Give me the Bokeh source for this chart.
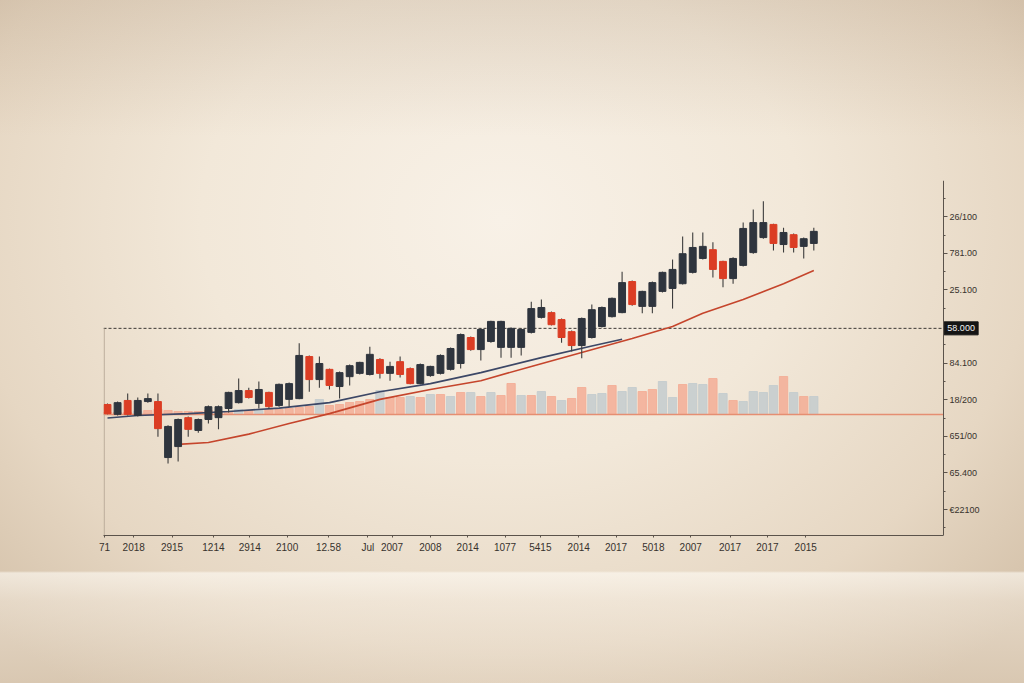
from bokeh.plotting import figure
from bokeh.models import Range1d, LinearAxis, FixedTicker, ColumnDataSource
from bokeh.core.properties import value
from bokeh.embed import file_html
from bokeh.resources import INLINE

# ---------------- data ----------------
opens = [387, 360, 398, 357, 395, 395, 242, 272, 351, 316,
         346, 351, 376, 392, 425, 390, 420, 384, 401, 403,
         518, 455, 483, 436, 463, 472, 469, 510, 472, 504,
         485, 444, 466, 472, 483, 499, 570, 537, 559, 543,
         543, 543, 584, 625, 638, 619, 586, 548, 570, 600,
         627, 638, 723, 655, 655, 696, 704, 717, 748, 786,
         810, 778, 731, 767, 802, 843, 879, 824, 851, 819, 827]
closes = [362, 392, 360, 398, 403, 321, 327, 346, 319, 346,
          381, 381, 420, 425, 406, 428, 381, 442, 444, 521,
          455, 499, 439, 474, 493, 502, 524, 472, 491, 469,
          444, 496, 491, 521, 540, 578, 537, 592, 614, 614,
          595, 592, 649, 652, 605, 570, 548, 622, 646, 652,
          677, 720, 660, 696, 720, 748, 756, 799, 816, 819,
          756, 731, 786, 868, 884, 884, 827, 857, 816, 840, 860]
highs = [390, 395, 417, 406, 417, 417, 330, 349, 354, 349,
         384, 384, 422, 458, 433, 450, 422, 444, 447, 554,
         521, 518, 485, 477, 496, 504, 545, 513, 504, 518,
         488, 499, 493, 524, 543, 581, 573, 595, 616, 616,
         597, 595, 668, 674, 641, 622, 589, 625, 660, 655,
         679, 750, 726, 698, 723, 750, 783, 846, 857, 857,
         830, 780, 789, 884, 920, 942, 881, 870, 854, 843, 870]
lows = [360, 357, 357, 354, 392, 299, 226, 231, 299, 310,
        335, 319, 365, 390, 403, 376, 376, 381, 381, 401,
        422, 433, 428, 403, 439, 469, 466, 458, 452, 461,
        442, 442, 463, 469, 480, 485, 534, 507, 556, 515,
        515, 521, 581, 622, 603, 556, 532, 513, 567, 597,
        625, 636, 657, 636, 636, 693, 649, 715, 745, 783,
        734, 707, 717, 764, 799, 840, 808, 802, 802, 786, 808]
volumes = [50, 50, 50, 75, 100, 125, 100, 75, 75, 75,
           100, 75, 75, 125, 100, 100, 125, 125, 150, 175,
           200, 375, 225, 250, 300, 325, 375, 600, 425, 425,
           450, 425, 500, 500, 450, 550, 550, 450, 550, 475,
           775, 475, 475, 575, 450, 350, 400, 675, 500, 525,
           725, 575, 675, 575, 625, 825, 425, 750, 775, 750,
           900, 525, 350, 325, 575, 550, 725, 950, 550, 450, 450]
vol_side = list("sssgssssss"
                "sssgsgssss"
                "sgsssssgss"
                "gsgsgsgsgs"
                "sgsgsgssgg"
                "sggssggsgg"
                "sgsggggsgsg")

ma_fast_idx = [0, 3, 8, 12, 17, 22, 27, 32, 37, 43, 48, 51]
ma_fast = [350, 357, 362, 368, 377, 392, 422, 444, 474, 515, 547, 565]
ma_slow_idx = [7, 10, 14, 18, 22, 27, 32, 37, 42, 47, 52, 56, 59, 63, 67, 70]
ma_slow = [278, 283, 306, 335, 362, 401, 428, 452, 491, 529, 567, 600, 636, 674, 717, 753]

xtick_labels = ["71", "2018", "2915", "1214", "2914", "2100", "12.58", "Jul", "2007", "2008",
                "2014", "1077", "5415", "2014", "2017", "5018", "2007", "2017", "2017", "2015"]
xtick_pos = [-0.3, 2.6, 6.4, 10.5, 14.1, 17.8, 21.9, 25.8, 28.2, 32.0,
             35.7, 39.4, 42.9, 46.7, 50.4, 54.1, 57.8, 61.7, 65.4, 69.2]
ytick_vals = [100, 200, 300, 400, 500, 600, 700, 800, 900]
ytick_labels = ["€22100", "65.400", "651/00", "18/200", "84.100", "58.000", "25.100", "781.00", "26/100"]
last_price = 595
last_label = "58.000"

# ---------------- layout / styling ----------------
DARK = "#2f353e"
RED = "#db3d24"
VOL_S = "#f3ad95"
VOL_G = "#c3cbce"
AXIS = "#5b534b"
TEXT = "#37322d"
FONT = "Liberation Sans"
X0, X_AXIS, X1 = -0.396, 82.85, 86.52      # frame left, price-axis position, frame right

idx = list(range(len(opens)))
src = ColumnDataSource(dict(
    x=idx, h=highs, l=lows,
    top=[max(o, c) for o, c in zip(opens, closes)],
    bottom=[min(o, c) for o, c in zip(opens, closes)],
    color=[DARK if c > o else RED for o, c in zip(opens, closes)],
))
vsrc = ColumnDataSource(dict(
    x=idx, vol=volumes,
    color=[VOL_S if s == "s" else VOL_G for s in vol_side],
))

p = figure(width=1024, height=683, output_backend="svg", toolbar_location=None,
           x_axis_location=None, y_axis_location=None,
           x_range=Range1d(X0, X1), y_range=Range1d(29, 999),
           min_border_left=103, min_border_right=44, min_border_top=180, min_border_bottom=148)
p.grid.visible = False
p.outline_line_color = None
p.background_fill_alpha = 0
p.border_fill_alpha = 0
p.styles = {
    "background-image": (
        "linear-gradient(to bottom, rgba(0,0,0,0) 0%, rgba(0,0,0,0) 83.6%, "
        "rgba(255,252,246,0.6) 83.9%, rgba(248,241,231,0.45) 88%, rgba(228,214,196,0.35) 100%), "
        "linear-gradient(to bottom, rgba(140,110,80,0.16) 0%, rgba(140,110,80,0) 20%), "
        "radial-gradient(ellipse 70% 85% at 49% 32%, #f8f1e7 0%, #f2e8d9 42%, #e6d7c3 75%, #d3c0a8 100%)"
    )
}

p.extra_y_ranges = {"vol": Range1d(-3025, 5850)}

# volume bars and their baseline
p.vbar(x="x", top="vol", bottom=0, width=0.82, fill_color="color", line_color="color",
       fill_alpha=0.85, line_alpha=0.85, y_range_name="vol", source=vsrc)
p.segment(x0=[X0], x1=[X_AXIS], y0=[0], y1=[0], y_range_name="vol",
          line_color="#e58e72", line_width=1.3)

# frame lines: dashed last-price line and short left border
p.segment(x0=[X0], x1=[X_AXIS], y0=[last_price], y1=[last_price],
          line_color="#3c3835", line_dash="3 2", line_width=1)
p.segment(x0=[-0.33], x1=[-0.33], y0=[29], y1=[last_price], line_color="#b3a593", line_width=1)

# moving averages
p.line(ma_fast_idx, ma_fast, line_color="#3c4766", line_width=1.6)
p.line(ma_slow_idx, ma_slow, line_color="#c5452c", line_width=1.6)

# candles
p.segment(x0="x", x1="x", y0="l", y1="h", line_color="#3d3d3d", line_width=1.1, source=src)
p.vbar(x="x", top="top", bottom="bottom", width=0.68, fill_color="color",
       line_color="color", source=src)

# axes
xaxis = LinearAxis(ticker=FixedTicker(ticks=xtick_pos, minor_ticks=[]), bounds=(X0, X_AXIS),
                   major_label_overrides={pos: lab for pos, lab in zip(xtick_pos, xtick_labels)},
                   axis_line_color=AXIS, major_tick_line_color=AXIS,
                   major_tick_out=2, major_tick_in=0, minor_tick_line_color=None,
                   major_label_text_font_size="10px", major_label_text_color=TEXT,
                   major_label_text_font=FONT, major_label_standoff=4)
p.add_layout(xaxis, "below")

shown = [v for v, lab in zip(ytick_vals, ytick_labels) if lab != last_label]
yaxis = LinearAxis(fixed_location=X_AXIS,
                   ticker=FixedTicker(ticks=shown,
                                      minor_ticks=[50, 150, 250, 350, 450, 550, 650, 750, 850, 950]),
                   major_label_overrides={v: lab for v, lab in zip(ytick_vals, ytick_labels)},
                   axis_line_color=AXIS, major_tick_line_color=AXIS, minor_tick_line_color=AXIS,
                   major_tick_out=4, major_tick_in=0, minor_tick_out=2, minor_tick_in=0,
                   major_label_text_font_size="9px", major_label_text_color=TEXT,
                   major_label_text_font=FONT, major_label_standoff=2)
p.add_layout(yaxis, "right")

# highlighted last-price tag next to the price axis
tag_x = X_AXIS + 1.75
p.rect(x=[tag_x], y=[last_price], width=34, height=13, width_units="screen", height_units="screen",
       fill_color="#151515", line_color="#151515")
p.text(x=[tag_x], y=[last_price], text=[last_label], text_align="center", text_baseline="middle",
       text_color="#f2f2f2", text_font=value(FONT), text_font_size="9px")

open("out.html", "w").write(file_html(p, INLINE))
